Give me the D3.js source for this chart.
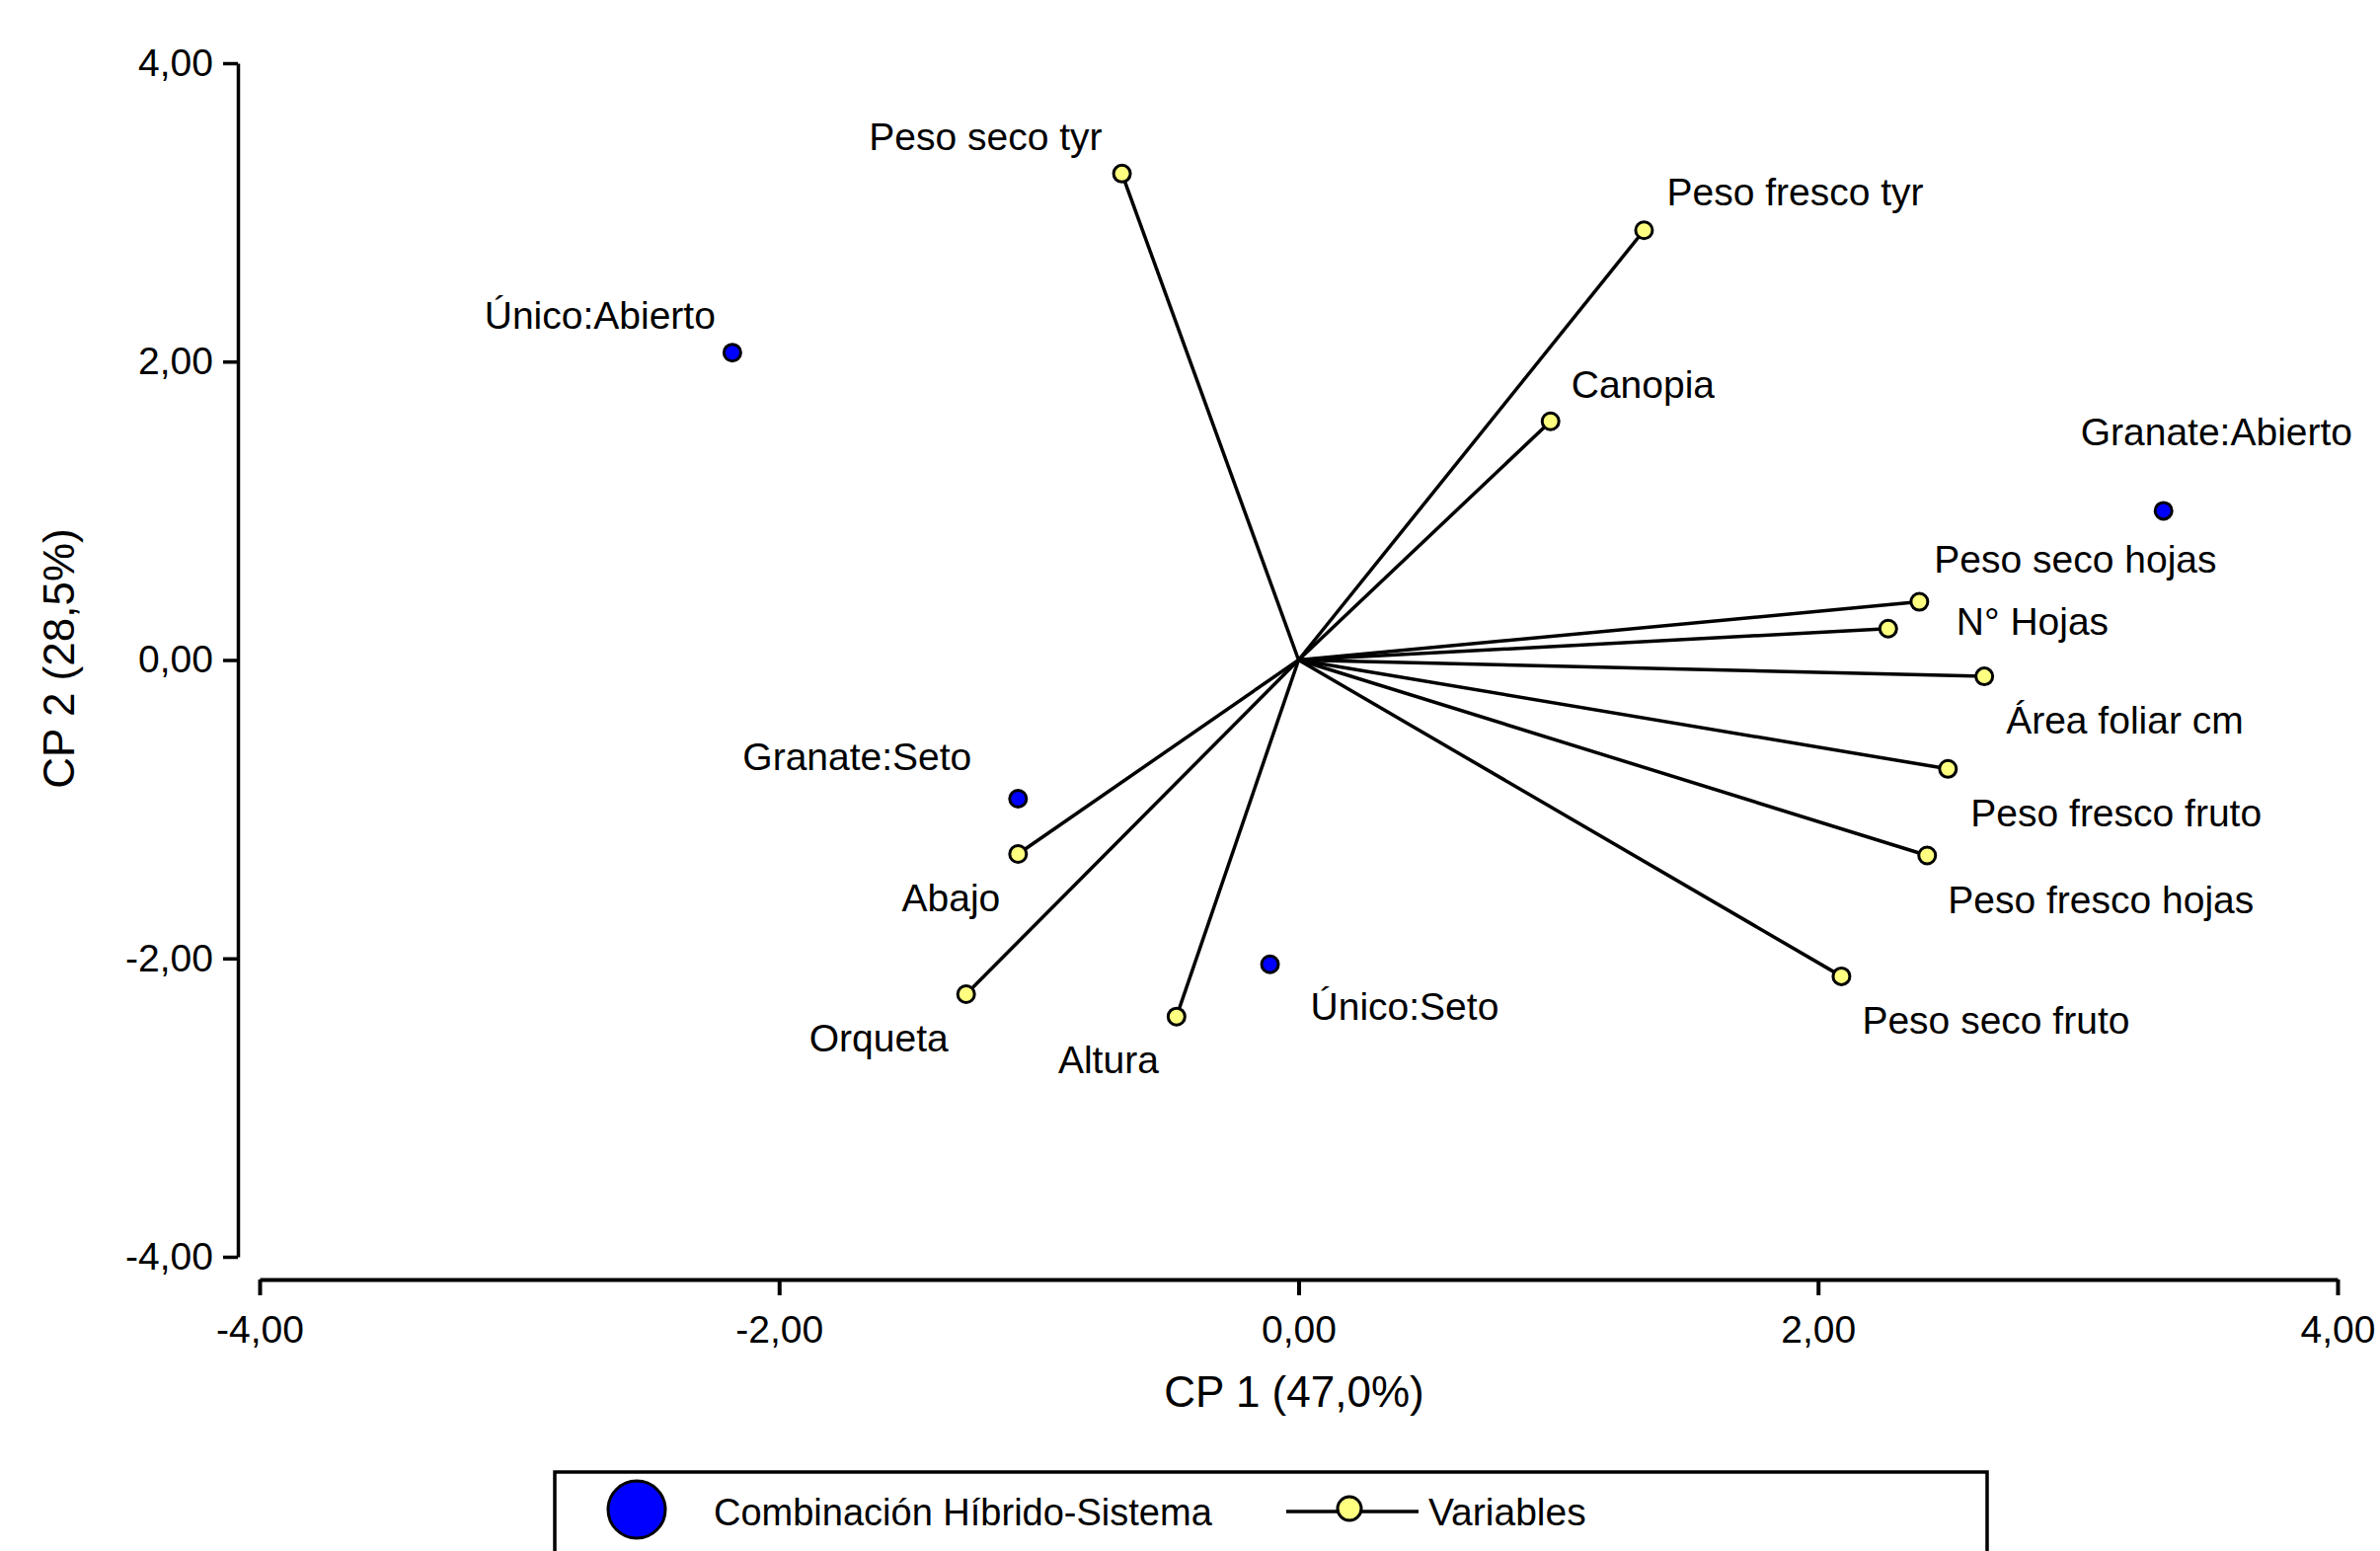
<!DOCTYPE html>
<html>
<head>
<meta charset="utf-8">
<script src="https://cdn.jsdelivr.net/npm/d3@7"></script>
<style>
	body { margin: 0; background: #fff; }
	svg { display: block; font-family: "Liberation Sans", Arial, sans-serif; }
</style>
</head>
<body>
<div id="biplot"></div>
<script>
// Variables (loadings) - CP1 / CP2
const varNames = ["Peso seco tyr", "Peso fresco tyr", "Canopia", "Peso seco hojas", "N° Hojas", "Área foliar cm",
	"Peso fresco fruto", "Peso fresco hojas", "Peso seco fruto", "Abajo", "Orqueta", "Altura"];
const varCP1 = [-0.68, 1.33, 0.97, 2.39, 2.27, 2.64, 2.50, 2.42, 2.09, -1.08, -1.28, -0.47];
const varCP2 = [3.26, 2.88, 1.60, 0.39, 0.21, -0.11, -0.73, -1.31, -2.12, -1.30, -2.24, -2.39];

// Combinación Híbrido-Sistema (scores)
const grpNames = ["Único:Abierto", "Granate:Abierto", "Granate:Seto", "Único:Seto"];
const grpCP1 = [-2.18, 3.33, -1.08, -0.11];
const grpCP2 = [2.06, 1.00, -0.93, -2.04];

const tickValues = [-4, -2, 0, 2, 4];
const xTitle = "CP 1 (47,0%)";
const yTitle = "CP 2 (28,5%)";
const legendLabels = ["Combinación Híbrido-Sistema", "Variables"];

// label placement [anchor, dx, dy] relative to the point
const varLabelPos = [
	["end", -20, -24], ["start", 23, -25], ["start", 21, -24], ["start", 15, -30],
	["start", 69, 6], ["start", 22, 58], ["start", 23, 58], ["start", 21, 59],
	["start", 21, 58], ["end", -18, 58], ["end", -18, 58], ["end", -18, 57]
];
const grpLabelPos = [["end", -17, -24], ["start", -84, -66], ["end", -47, -29], ["start", 41, 56]];

const W = 2411, H = 1571;
const fmt = d => d.toFixed(2).replace(".", ",");

const svg = d3.select("#biplot").append("svg")
	.attr("width", W)
	.attr("height", H);

const x = d3.scaleLinear().domain([-4, 4]).range([263, 2368]);
const y = d3.scaleLinear().domain([-4, 4]).range([1273, 64]);

// Y axis
const yAxis = svg.append("g")
	.attr("transform", "translate(241,0)")
	.call(d3.axisLeft(y).tickValues(tickValues).tickFormat(fmt).tickSize(15).tickSizeOuter(0).tickPadding(10));
yAxis.selectAll("path, line").attr("stroke", "#000").attr("stroke-width", 3.5);
yAxis.selectAll("text").attr("font-size", 39).attr("fill", "#000").attr("font-family", null);

// X axis
const xAxis = svg.append("g")
	.attr("transform", "translate(0,1296)")
	.call(d3.axisBottom(x).tickValues(tickValues).tickFormat(fmt).tickSize(16).tickSizeOuter(0).tickPadding(20));
xAxis.selectAll("path, line").attr("stroke", "#000").attr("stroke-width", 4);
xAxis.selectAll("text").attr("font-size", 39).attr("fill", "#000").attr("font-family", null);

// axis titles
svg.append("text")
	.attr("x", 1311).attr("y", 1425)
	.attr("text-anchor", "middle")
	.attr("font-size", 44)
	.text(xTitle);
svg.append("text")
	.attr("transform", "translate(75,667) rotate(-90)")
	.attr("text-anchor", "middle")
	.attr("font-size", 44)
	.text(yTitle);

const vars = varNames.map((n, i) => ({ name: n, cp1: varCP1[i], cp2: varCP2[i], pos: varLabelPos[i] }));
const grps = grpNames.map((n, i) => ({ name: n, cp1: grpCP1[i], cp2: grpCP2[i], pos: grpLabelPos[i] }));

// vectors from origin
svg.append("g")
	.selectAll("line")
	.data(vars)
	.join("line")
		.attr("x1", x(0)).attr("y1", y(0))
		.attr("x2", d => x(d.cp1)).attr("y2", d => y(d.cp2))
		.attr("stroke", "#000")
		.attr("stroke-width", 3.5);

// variable points
svg.append("g")
	.selectAll("circle")
	.data(vars)
	.join("circle")
		.attr("cx", d => x(d.cp1)).attr("cy", d => y(d.cp2))
		.attr("r", 8.5)
		.attr("fill", "#ffff80")
		.attr("stroke", "#000")
		.attr("stroke-width", 3);

// group points
svg.append("g")
	.selectAll("circle")
	.data(grps)
	.join("circle")
		.attr("cx", d => x(d.cp1)).attr("cy", d => y(d.cp2))
		.attr("r", 8.5)
		.attr("fill", "#0000ff")
		.attr("stroke", "#000")
		.attr("stroke-width", 3);

// labels
svg.append("g")
	.selectAll("text")
	.data(vars.concat(grps))
	.join("text")
		.attr("x", d => x(d.cp1) + d.pos[1])
		.attr("y", d => y(d.cp2) + d.pos[2])
		.attr("text-anchor", d => d.pos[0])
		.attr("font-size", 39)
		.text(d => d.name);

// legend
const legend = svg.append("g");
legend.append("rect")
	.attr("x", 562).attr("y", 1491)
	.attr("width", 1451).attr("height", 200)
	.attr("fill", "none")
	.attr("stroke", "#000")
	.attr("stroke-width", 3.5);
legend.append("circle")
	.attr("cx", 645).attr("cy", 1529).attr("r", 29)
	.attr("fill", "#0000ff").attr("stroke", "#000").attr("stroke-width", 3);
legend.append("text")
	.attr("x", 723).attr("y", 1545)
	.attr("font-size", 38)
	.text(legendLabels[0]);
legend.append("line")
	.attr("x1", 1303).attr("x2", 1437).attr("y1", 1531).attr("y2", 1531)
	.attr("stroke", "#000").attr("stroke-width", 3.5);
legend.append("circle")
	.attr("cx", 1367).attr("cy", 1528).attr("r", 12)
	.attr("fill", "#ffff80").attr("stroke", "#000").attr("stroke-width", 3);
legend.append("text")
	.attr("x", 1447).attr("y", 1545)
	.attr("font-size", 39)
	.text(legendLabels[1]);
</script>
</body>
</html>
